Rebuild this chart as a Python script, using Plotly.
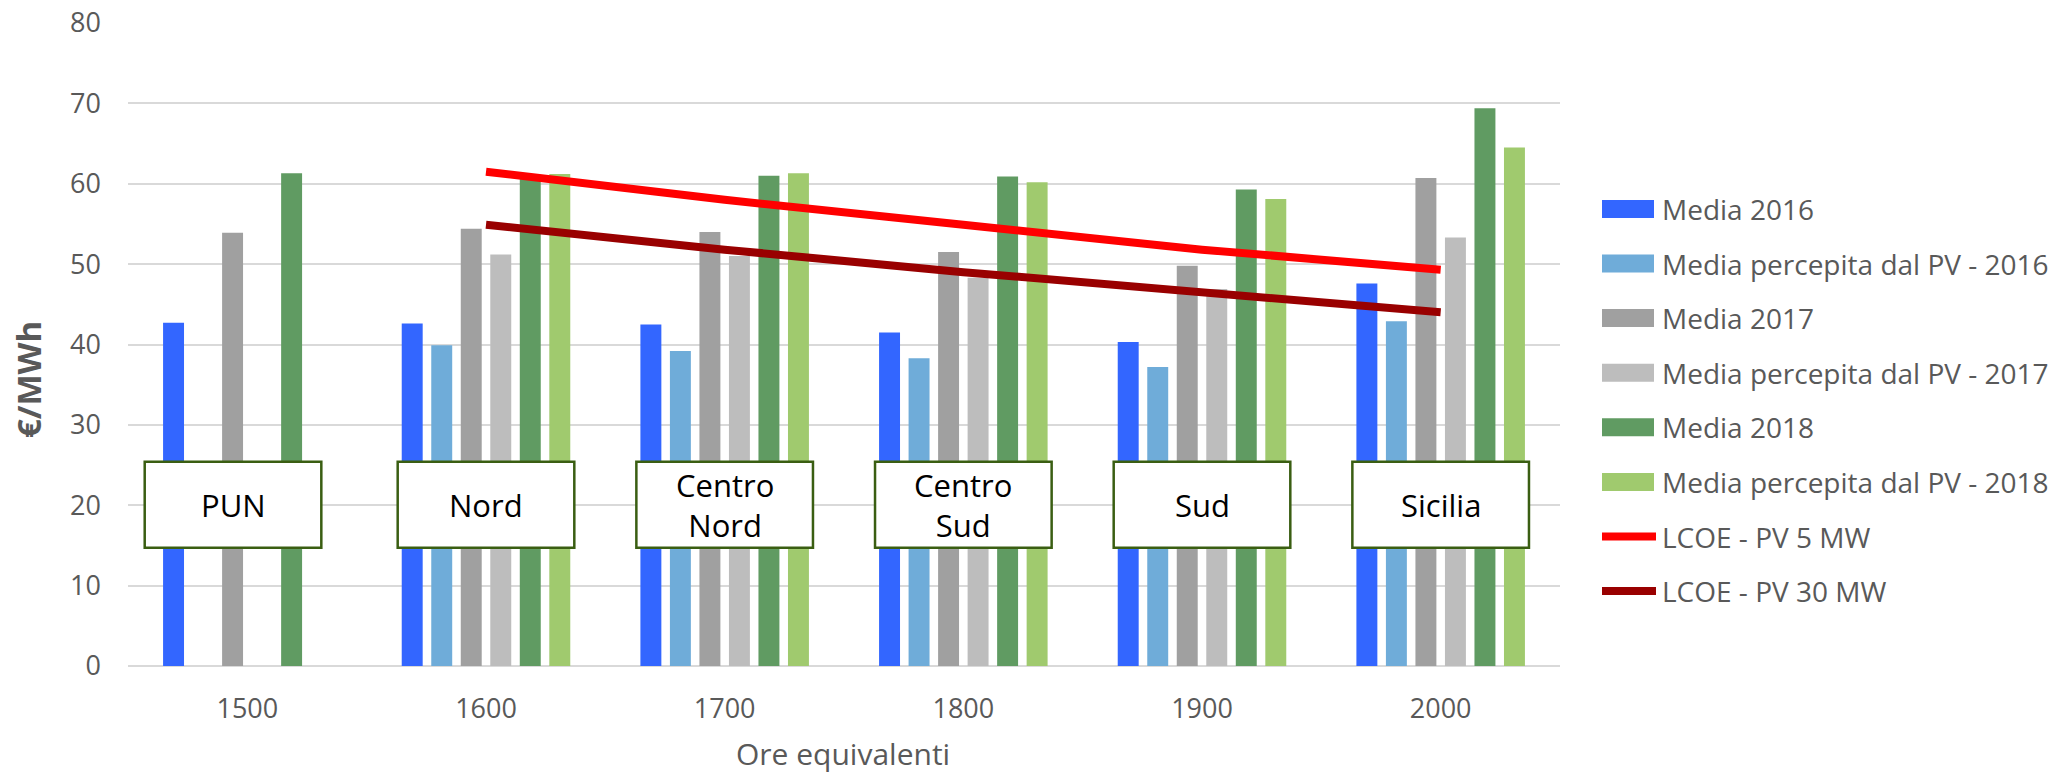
import plotly.graph_objects as go

# Equivalent operating hours (category axis)
hours = ["1500", "1600", "1700", "1800", "1900", "2000"]
zones = ["PUN", "Nord", "Centro<br>Nord", "Centro<br>Sud", "Sud", "Sicilia"]

# Average prices (€/MWh)
media_2016 = [42.7, 42.6, 42.5, 41.5, 40.3, 47.6]
perc_pv_2016 = [None, 39.9, 39.2, 38.3, 37.2, 42.9]
media_2017 = [53.9, 54.4, 54.0, 51.5, 49.8, 60.7]
perc_pv_2017 = [None, 51.2, 51.0, 48.3, 46.9, 53.3]
media_2018 = [61.3, 61.0, 61.0, 60.9, 59.3, 69.4]
perc_pv_2018 = [None, 61.2, 61.3, 60.2, 58.1, 64.5]

# LCOE curves (from 1600 h onward)
lcoe_hours = ["1600", "1700", "1800", "1900", "2000"]
lcoe_5mw = [61.5, 58.0, 54.9, 51.8, 49.3]
lcoe_30mw = [54.9, 51.8, 49.0, 46.4, 44.0]

bar_series = [
    ("Media 2016", media_2016, "#3366FF"),
    ("Media percepita dal PV - 2016", perc_pv_2016, "#6FACD9"),
    ("Media 2017", media_2017, "#A0A0A0"),
    ("Media percepita dal PV - 2017", perc_pv_2017, "#BDBDBD"),
    ("Media 2018", media_2018, "#609B62"),
    ("Media percepita dal PV - 2018", perc_pv_2018, "#A0CA6E"),
]
line_series = [
    ("LCOE - PV 5 MW", lcoe_5mw, "#FF0000"),
    ("LCOE - PV 30 MW", lcoe_30mw, "#990000"),
]

FONT = "Open Sans"
GREY_TXT = "#595959"

W, H = 2068, 775
ML, MR, MT, MB = 128, 508, 23, 109
PW, PH = W - ML - MR, H - MT - MB


def px_x(p):
    return (p - ML) / PW


def px_y(p):
    return (H - MB - p) / PH


fig = go.Figure()
for name, vals, col in bar_series:
    fig.add_trace(go.Bar(x=hours, y=vals, name=name, marker=dict(color=col, line=dict(width=0)),
                         showlegend=False))
for name, vals, col in line_series:
    fig.add_trace(go.Scatter(x=lcoe_hours, y=vals, name=name, mode="lines",
                             line=dict(color=col, width=8), showlegend=False))

shapes = []
annotations = []

# zone label boxes across the bar groups
box_shift = {0: -0.06}
for i, z in enumerate(zones):
    c = i + box_shift.get(i, 0.0)
    shapes.append(dict(type="rect", xref="x", yref="y", x0=c - 0.37, x1=c + 0.37, y0=14.7, y1=25.4,
                       fillcolor="white", line=dict(color="#3A5E12", width=2.5), layer="above"))
    annotations.append(dict(x=c, y=20, xref="x", yref="y", text=z, showarrow=False,
                            font=dict(family=FONT, size=31, color="black"), align="center"))

# legend drawn beside the plot area
row_y = [209, 263.5, 318, 372.7, 427.3, 482, 536.5, 591]
items = [(n, c, "bar") for n, _, c in bar_series] + [(n, c, "line") for n, _, c in line_series]
for (name, col, kind), ry in zip(items, row_y):
    if kind == "bar":
        shapes.append(dict(type="rect", xref="paper", yref="paper",
                           x0=px_x(1602), x1=px_x(1654), y0=px_y(ry + 9), y1=px_y(ry - 9),
                           fillcolor=col, line=dict(width=0)))
    else:
        shapes.append(dict(type="line", xref="paper", yref="paper",
                           x0=px_x(1602), x1=px_x(1656), y0=px_y(ry), y1=px_y(ry),
                           line=dict(color=col, width=8)))
    annotations.append(dict(x=px_x(1660), y=px_y(ry), xref="paper", yref="paper", text=name,
                            showarrow=False, xanchor="left", yanchor="middle",
                            font=dict(family=FONT, size=28, color=GREY_TXT)))

# y-axis title
annotations.append(dict(x=px_x(28), y=px_y(380), xref="paper", yref="paper", text="<b>€/MWh</b>",
                        showarrow=False, textangle=-90, xanchor="center", yanchor="middle",
                        font=dict(family=FONT, size=33, color=GREY_TXT)))

# x-axis title
annotations.append(dict(x=px_x(843), y=px_y(776), xref="paper", yref="paper", text="Ore equivalenti",
                        showarrow=False, xanchor="center", yanchor="bottom",
                        font=dict(family=FONT, size=30, color=GREY_TXT)))

fig.update_layout(
    width=W, height=H, autosize=False,
    margin=dict(l=ML, r=MR, t=MT, b=MB, pad=0, autoexpand=False),
    paper_bgcolor="white", plot_bgcolor="white",
    barmode="group", bargap=0.258, bargroupgap=0.29,
    showlegend=False,
    shapes=shapes, annotations=annotations,
    font=dict(family=FONT, color=GREY_TXT),
)
fig.update_xaxes(type="category", categoryorder="array", categoryarray=hours, range=[-0.5, 5.5],
                 showgrid=False, showline=False, zeroline=False, ticks="", automargin=False,
                 tickfont=dict(family=FONT, size=27, color=GREY_TXT), ticklabelstandoff=24)
fig.update_yaxes(range=[0, 80], dtick=10, showgrid=True, gridcolor="#D9D9D9", gridwidth=1.5,
                 zeroline=True, zerolinecolor="#D9D9D9", zerolinewidth=1.5, showline=False, ticks="",
                 automargin=False,
                 tickfont=dict(family=FONT, size=27, color=GREY_TXT), ticklabelstandoff=26)

fig.write_html("out.html")
